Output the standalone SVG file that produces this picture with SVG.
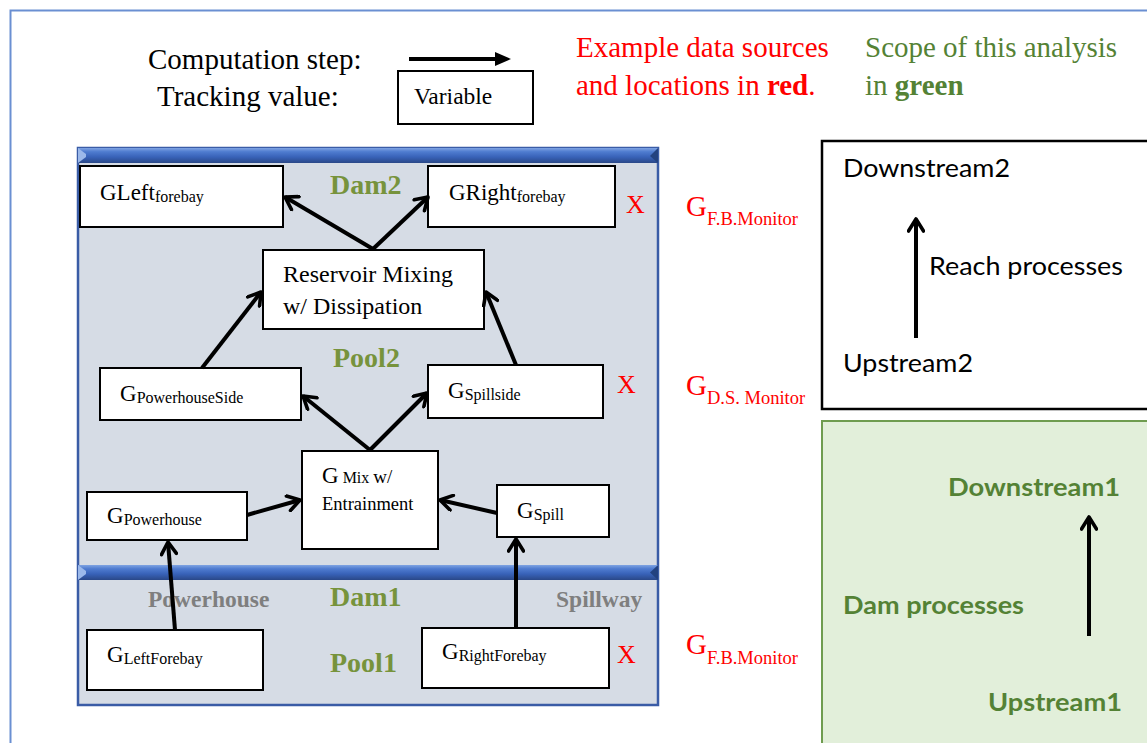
<svg xmlns="http://www.w3.org/2000/svg" width="1147" height="743" viewBox="0 0 1147 743">
<style>
.serif{font-family:"Liberation Serif","Times New Roman",serif;}
.sans{font-family:Lato,"Liberation Sans",Arial,sans-serif;}
.box{fill:#ffffff;stroke:#000000;stroke-width:2;}
.main{font-size:23px;fill:#000;}
.sub{font-size:16px;}
.red{fill:#ff0000;}
.olive{fill:#77933c;font-weight:bold;font-size:28px;}
.gray{fill:#7f7f7f;font-weight:bold;font-size:23.5px;}
.conn{stroke:#000;stroke-width:4;fill:none;marker-end:url(#open);}
.green{fill:#548235;}
</style>
<defs>
<marker id="open" viewBox="0 0 18 18" refX="15" refY="9" markerWidth="18" markerHeight="18" markerUnits="userSpaceOnUse" orient="auto">
<path d="M3,1.5 L15,9 L3,16.5" fill="none" stroke="#000" stroke-width="3.6" stroke-linecap="round" stroke-linejoin="round"/>
</marker>
<linearGradient id="bar" x1="0" y1="0" x2="0" y2="1">
<stop offset="0" stop-color="#7fa3e2"/>
<stop offset="0.25" stop-color="#4f7cd0"/>
<stop offset="0.6" stop-color="#3862b8"/>
<stop offset="1" stop-color="#2a4888"/>
</linearGradient>
</defs>

<!-- outer frame -->
<path d="M10.5,743 L10.5,10.5 L1147,10.5" fill="none" stroke="#6a8fd2" stroke-width="2"/>

<!-- legend -->
<g id="legend">
<text class="serif" x="148" y="69" font-size="29">Computation step:</text>
<text class="serif" x="157" y="106" font-size="29">Tracking value:</text>
<line x1="409" y1="59" x2="497" y2="59" stroke="#000" stroke-width="4"/>
<polygon points="495,52 511,59 495,66" fill="#000"/>
<rect x="398" y="71" width="135" height="53" class="box" stroke-width="1.5"/>
<text class="serif" x="414" y="104" font-size="23.5">Variable</text>
<text class="serif red" x="576" y="57" font-size="29">Example data sources</text>
<text class="serif red" x="576" y="95" font-size="29">and locations in <tspan font-weight="bold">red</tspan>.</text>
<text class="serif green" x="865" y="57" font-size="29">Scope of this analysis</text>
<text class="serif green" x="865" y="95" font-size="29">in <tspan font-weight="bold">green</tspan></text>
</g>

<!-- dam panel -->
<g id="panel">
<rect x="78" y="148" width="580" height="557" fill="#d6dce5" stroke="#3a5ca6" stroke-width="2.5"/>
<rect x="78" y="148" width="580" height="15" fill="url(#bar)"/>
<polygon points="78,148 86,154 86,157 78,163" fill="#9cb9ea"/>
<polygon points="658,148 650,156 658,163" fill="#23427f"/>
<rect x="78" y="565" width="580" height="15" fill="url(#bar)"/>
<polygon points="78,565 86,571 86,574 78,580" fill="#9cb9ea"/>
<polygon points="658,565 650,572.5 658,580" fill="#23427f"/>
<text class="serif olive" x="330" y="194">Dam2</text>
<text class="serif olive" x="333" y="367">Pool2</text>
<text class="serif olive" x="330" y="606">Dam1</text>
<text class="serif olive" x="330" y="672">Pool1</text>
<text class="serif gray" x="148" y="607">Powerhouse</text>
<text class="serif gray" x="556" y="607">Spillway</text>
</g>

<g id="n-gleft">
<rect x="80" y="166" width="203" height="61" class="box"/>
<text class="serif main" x="100" y="200">GLeft<tspan class="sub" dy="2">forebay</tspan></text>
</g>
<g id="n-gright">
<rect x="428" y="166" width="187" height="61" class="box"/>
<text class="serif main" x="449" y="200">GRight<tspan class="sub" dy="2">forebay</tspan></text>
</g>
<g id="n-reservoir">
<rect x="263" y="250" width="221" height="79" class="box"/>
<text class="serif" x="283" y="282" font-size="24">Reservoir Mixing</text>
<text class="serif" x="283" y="314" font-size="24">w/ Dissipation</text>
</g>
<g id="n-phside">
<rect x="100" y="368" width="201" height="52" class="box"/>
<text class="serif main" x="120" y="401">G<tspan class="sub" dy="2">PowerhouseSide</tspan></text>
</g>
<g id="n-spillside">
<rect x="428" y="365" width="175" height="53" class="box"/>
<text class="serif main" x="448" y="398">G<tspan class="sub" dy="2">Spillside</tspan></text>
</g>
<g id="n-mix">
<rect x="302" y="451" width="136" height="98" class="box"/>
<text class="serif" x="322" y="483" font-size="23">G<tspan font-size="16"> Mix </tspan><tspan font-size="19">w/</tspan></text>
<text class="serif" x="322" y="510" font-size="18.5">Entrainment</text>
</g>
<g id="n-powerhouse">
<rect x="87" y="492" width="160" height="48" class="box"/>
<text class="serif main" x="107" y="523">G<tspan class="sub" dy="2">Powerhouse</tspan></text>
</g>
<g id="n-spill">
<rect x="497" y="485" width="112" height="52" class="box"/>
<text class="serif main" x="517" y="518">G<tspan class="sub" dy="2">Spill</tspan></text>
</g>
<g id="n-leftforebay">
<rect x="87" y="630" width="176" height="60" class="box"/>
<text class="serif main" x="107" y="662">G<tspan class="sub" dy="2">LeftForebay</tspan></text>
</g>
<g id="n-rightforebay">
<rect x="422" y="628" width="187" height="60" class="box"/>
<text class="serif main" x="442" y="659">G<tspan class="sub" dy="2">RightForebay</tspan></text>
</g>

<!-- data source markers -->
<g id="sources">
<text class="serif red" x="626" y="213" font-size="26">X</text>
<text class="serif red" x="617" y="393" font-size="26">X</text>
<text class="serif red" x="617" y="663" font-size="26">X</text>
<text class="serif red" x="686" y="216" font-size="29">G<tspan font-size="18.5" dy="9">F.B.Monitor</tspan></text>
<text class="serif red" x="686" y="395" font-size="29">G<tspan font-size="18.5" dy="9">D.S. Monitor</tspan></text>
<text class="serif red" x="686" y="654" font-size="29">G<tspan font-size="18.5" dy="10">F.B.Monitor</tspan></text>
</g>

<!-- right panels -->
<g id="reach">
<rect x="822" y="141" width="340" height="268" fill="#fff" stroke="#000" stroke-width="2.5"/>
<text class="sans" x="843" y="177" font-size="25" textLength="167" lengthAdjust="spacingAndGlyphs">Downstream2</text>
<text class="sans" x="929" y="275" font-size="25" textLength="194" lengthAdjust="spacingAndGlyphs">Reach processes</text>
<text class="sans" x="843" y="372" font-size="25" textLength="130" lengthAdjust="spacingAndGlyphs">Upstream2</text>
</g>
<g id="dam">
<rect x="822" y="421" width="340" height="330" fill="#e2efda" stroke="#6f9c50" stroke-width="2"/>
<text class="sans green" x="948" y="496" font-size="25" font-weight="bold" textLength="172" lengthAdjust="spacingAndGlyphs">Downstream1</text>
<text class="sans green" x="843" y="614" font-size="25" font-weight="bold" textLength="181" lengthAdjust="spacingAndGlyphs">Dam processes</text>
<text class="sans green" x="988" y="711" font-size="25" font-weight="bold" textLength="134" lengthAdjust="spacingAndGlyphs">Upstream1</text>
</g>

<!-- connectors -->
<g id="connectors">
<line class="conn" x1="373" y1="249" x2="285" y2="197"/>
<line class="conn" x1="373" y1="249" x2="428" y2="197"/>
<line class="conn" x1="202" y1="368" x2="261" y2="292"/>
<line class="conn" x1="516" y1="365" x2="486" y2="292"/>
<line class="conn" x1="370" y1="450" x2="303" y2="396"/>
<line class="conn" x1="370" y1="450" x2="427" y2="393"/>
<line class="conn" x1="247" y1="515" x2="300" y2="500"/>
<line class="conn" x1="497" y1="513" x2="440" y2="500"/>
<line class="conn" x1="175" y1="630" x2="168" y2="542"/>
<line class="conn" x1="516" y1="628" x2="516" y2="539"/>
<line class="conn" x1="916" y1="338" x2="916" y2="219"/>
<line class="conn" x1="1089" y1="636" x2="1089" y2="517"/>
</g>
</svg>
